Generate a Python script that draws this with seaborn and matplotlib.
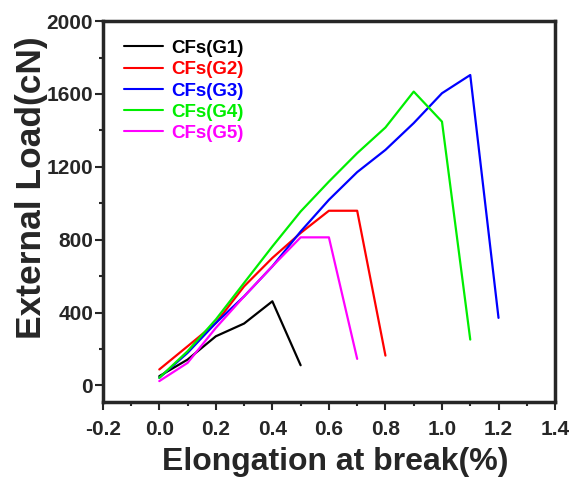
import numpy as np
import pandas as pd
import matplotlib
matplotlib.use('Agg')
import matplotlib.pyplot as plt
import seaborn as sns
from matplotlib.ticker import MultipleLocator

# data
x_g1 = [0.0, 0.1, 0.2, 0.3, 0.4, 0.5]
y_g1 = [51, 142, 270, 340, 462, 111]

x_g2 = [0.0, 0.1, 0.2, 0.3, 0.4, 0.5, 0.6, 0.7, 0.8]
y_g2 = [88, 215, 343, 544, 700, 837, 959, 959, 164]

x_g3 = [0.0, 0.1, 0.2, 0.3, 0.4, 0.5, 0.6, 0.7, 0.8, 0.9, 1.0, 1.1, 1.2]
y_g3 = [42, 179, 343, 489, 654, 845, 1019, 1171, 1293, 1440, 1604, 1704, 371]

x_g4 = [0.0, 0.1, 0.2, 0.3, 0.4, 0.5, 0.6, 0.7, 0.8, 0.9, 1.0, 1.1]
y_g4 = [42, 188, 362, 563, 763, 955, 1119, 1275, 1416, 1613, 1448, 252]

x_g5 = [0.0, 0.1, 0.2, 0.3, 0.4, 0.5, 0.6, 0.7]
y_g5 = [24, 124, 316, 489, 654, 813, 813, 146]

names = ['CFs(G1)', 'CFs(G2)', 'CFs(G3)', 'CFs(G4)', 'CFs(G5)']
colors = ['#000000', '#ff0000', '#0000ff', '#00ee00', '#ff00ff']

xs = [x_g1, x_g2, x_g3, x_g4, x_g5]
ys = [y_g1, y_g2, y_g3, y_g4, y_g5]
frames = []
for n, x, y in zip(names, xs, ys):
    frames.append(pd.DataFrame({'elong': x, 'load': y, 'sample': n}))
df = pd.concat(frames, ignore_index=True)

sns.set_style('ticks')
plt.rcParams['font.family'] = ['Liberation Sans', 'DejaVu Sans']
plt.rcParams['font.weight'] = 'bold'
plt.rcParams['axes.unicode_minus'] = False

fig = plt.figure(figsize=(5.74, 4.79), dpi=100)
ax = fig.add_axes([0.179, 0.161, 0.788, 0.795])

sns.lineplot(data=df, x='elong', y='load', hue='sample', palette=colors,
             sort=False, estimator=None, linewidth=1.6, ax=ax)

ax.set_xlim(-0.2, 1.4)
ax.set_ylim(-90, 2000)
ax.xaxis.set_major_locator(MultipleLocator(0.2))
ax.xaxis.set_minor_locator(MultipleLocator(0.1))
ax.yaxis.set_major_locator(MultipleLocator(400))
ax.yaxis.set_minor_locator(MultipleLocator(200))

for s in ax.spines.values():
    s.set_linewidth(2.5)
    s.set_visible(True)
ax.tick_params(which='major', direction='out', length=6, width=1.5, labelsize=15)
ax.tick_params(which='minor', direction='out', length=3, width=1.5)
ax.tick_params(axis='x', which='major', pad=7)
ax.tick_params(axis='y', which='major', pad=1)
for lab in ax.get_xticklabels() + ax.get_yticklabels():
    lab.set_fontweight('bold')

ax.set_xlabel('Elongation at break(%)', fontsize=23, fontweight='bold')
ax.set_ylabel('External Load(cN)', fontsize=25.5, fontweight='bold')
ax.xaxis.set_label_coords(0.513, -0.118)
ax.yaxis.set_label_coords(-0.122, 0.562)

leg = ax.legend(loc='upper left', frameon=False, fontsize=13.5, labelcolor='linecolor',
                handlelength=2.1, handletextpad=0.45, labelspacing=0.22,
                bbox_to_anchor=(0.017, 0.985), borderaxespad=0.3)
for t in leg.get_texts():
    t.set_fontweight('bold')
for h in leg.get_lines():
    h.set_linewidth(1.5)

fig.savefig('out.png', dpi=100)
